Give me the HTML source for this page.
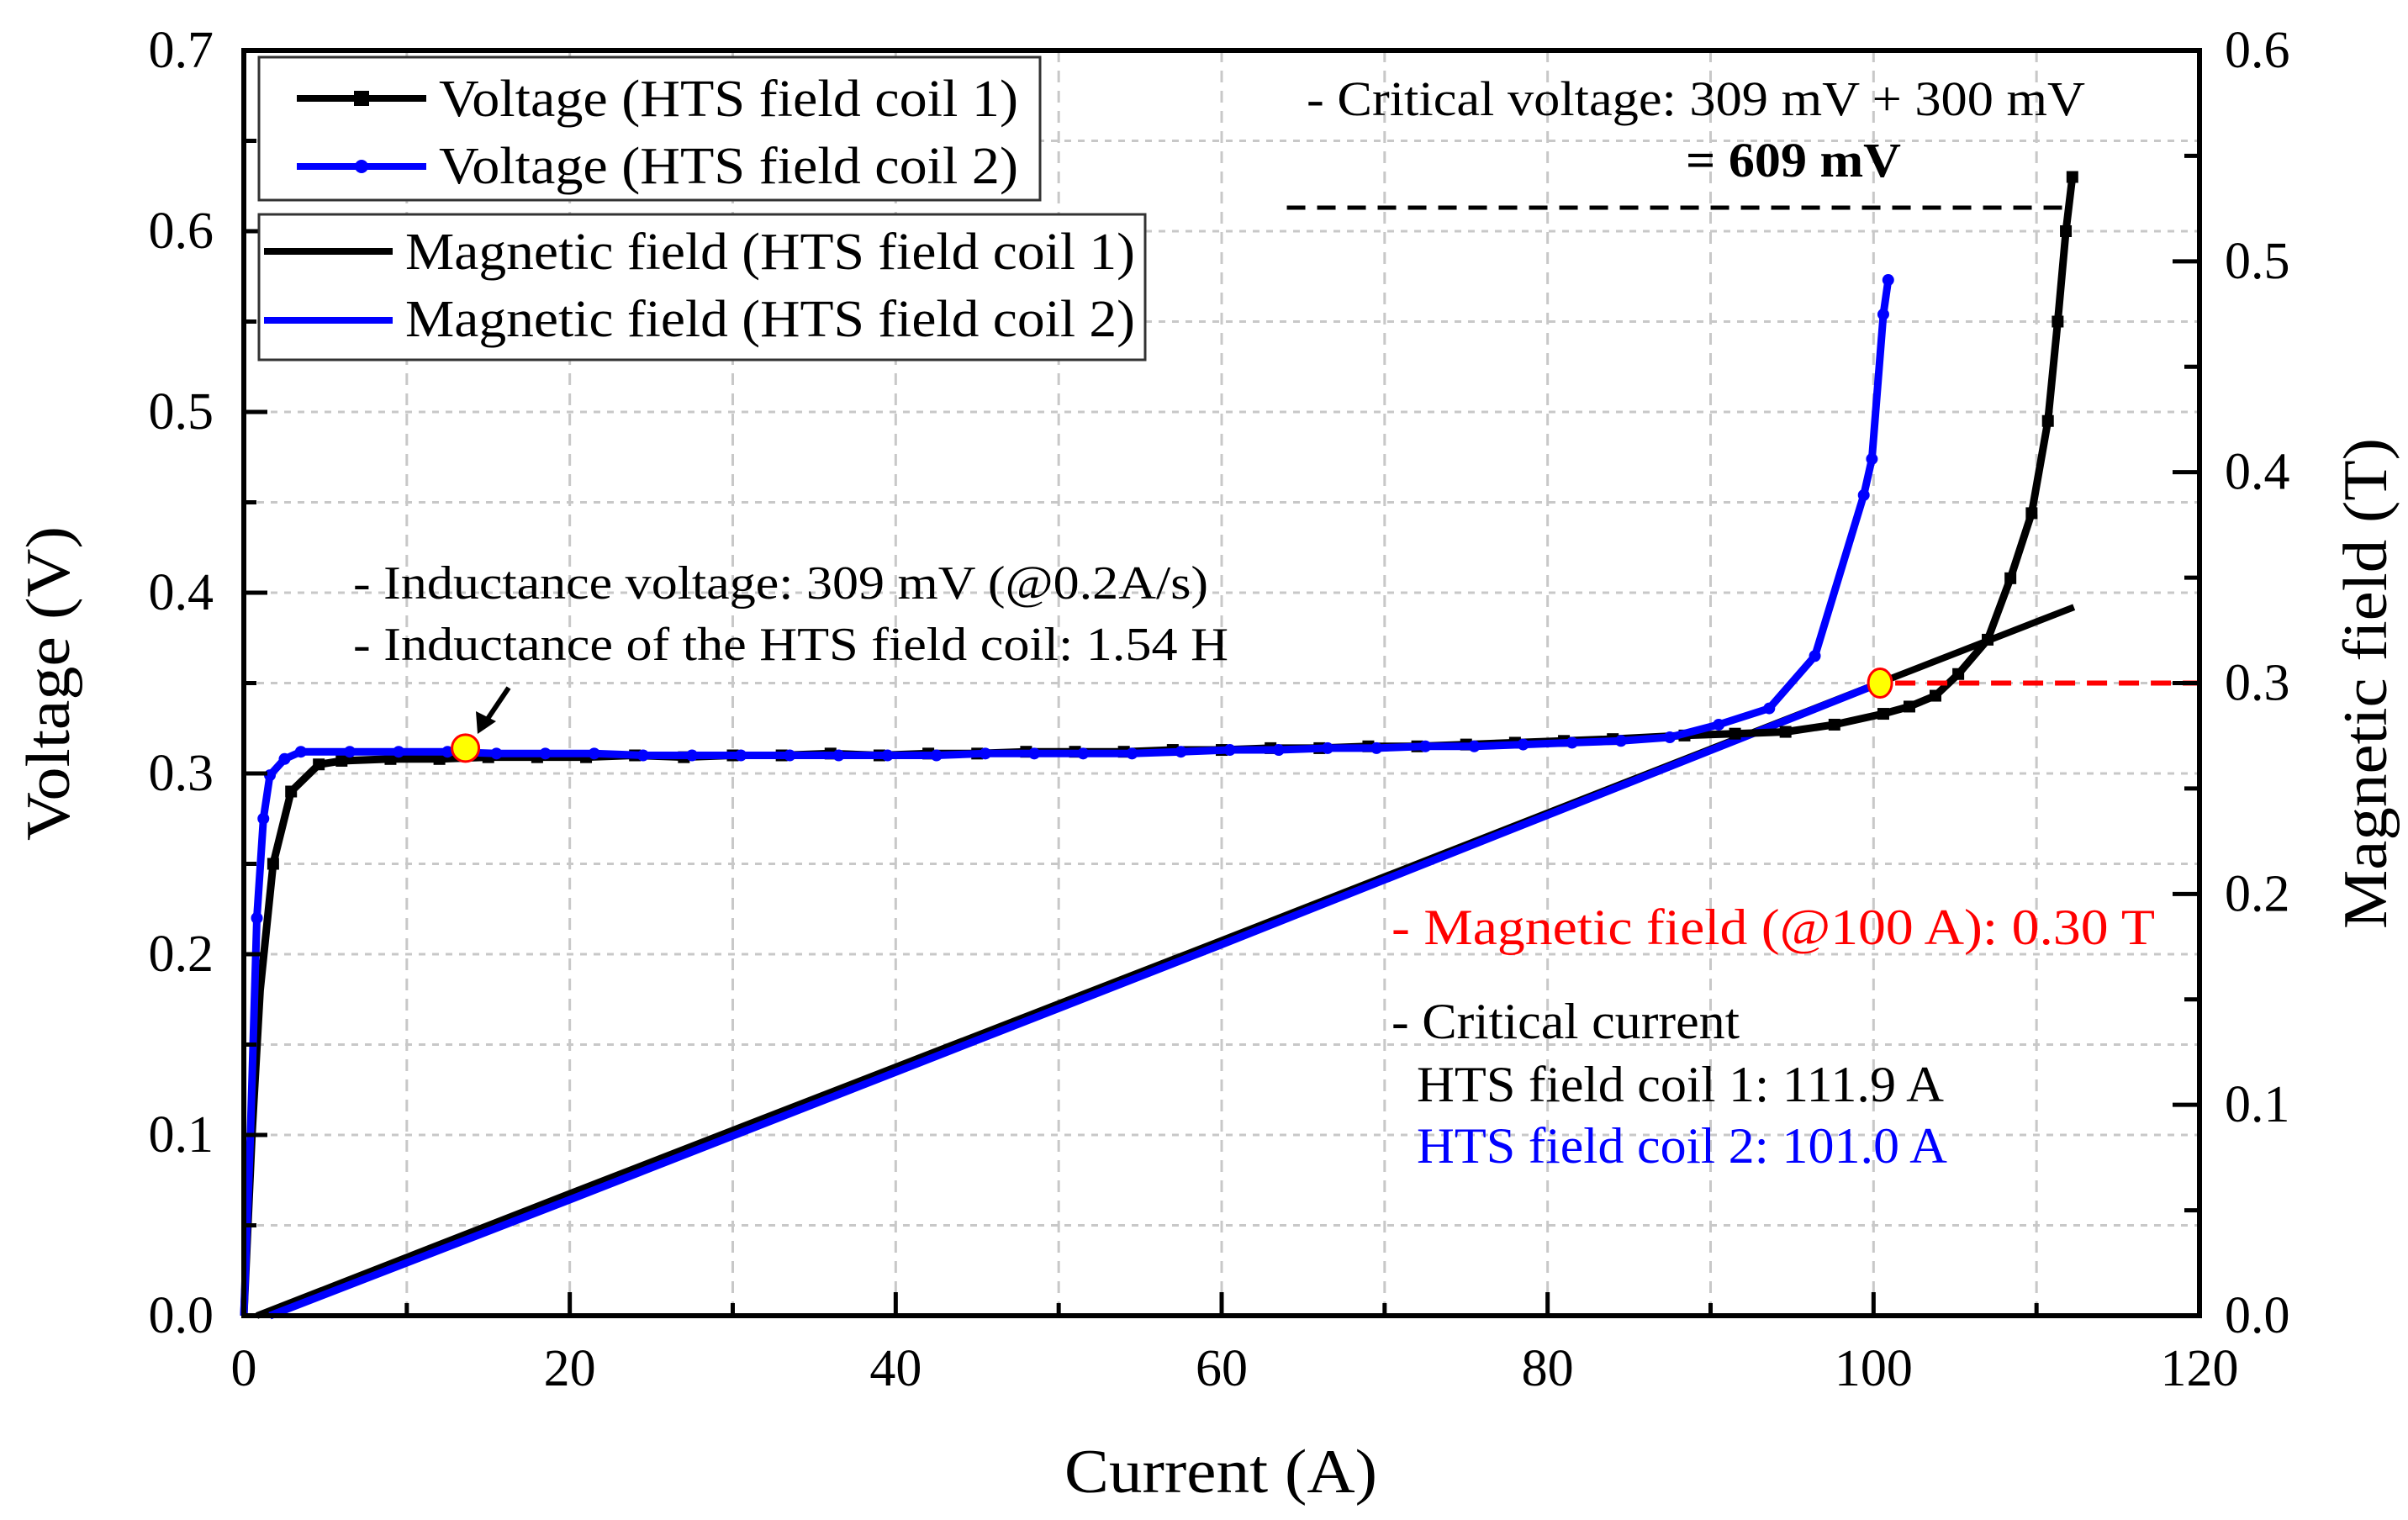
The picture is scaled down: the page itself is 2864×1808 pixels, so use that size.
<!DOCTYPE html>
<html><head><meta charset="utf-8"><style>
html,body{margin:0;padding:0;background:#fff;}
svg{display:block;font-family:"Liberation Serif",serif;}
</style></head><body>
<svg id="chart" width="2864" height="1808" viewBox="0 0 2864 1808" xmlns="http://www.w3.org/2000/svg">
<g id="grid"></g>
<g id="series"></g>
<g id="axes"></g>

<g>
<rect x="308" y="68" width="929" height="170" fill="#fff" stroke="#333" stroke-width="3"/>
<line x1="353" y1="117" x2="507" y2="117" stroke="#000" stroke-width="8"/>
<rect x="421" y="108" width="18" height="18" fill="#000"/>
<text x="522" y="138" font-size="62" textLength="689" lengthAdjust="spacingAndGlyphs">Voltage (HTS field coil 1)</text>
<line x1="353" y1="198" x2="507" y2="198" stroke="#0000ff" stroke-width="8"/>
<circle cx="430" cy="198" r="8" fill="#0000ff"/>
<text x="522" y="218" font-size="62" textLength="689" lengthAdjust="spacingAndGlyphs">Voltage (HTS field coil 2)</text>
</g>
<g>
<rect x="308" y="255" width="1054" height="173" fill="#fff" stroke="#333" stroke-width="3"/>
<line x1="314" y1="299" x2="467" y2="299" stroke="#000" stroke-width="8"/>
<text x="482" y="320" font-size="62" textLength="868" lengthAdjust="spacingAndGlyphs">Magnetic field (HTS field coil 1)</text>
<line x1="314" y1="381" x2="467" y2="381" stroke="#0000ff" stroke-width="8"/>
<text x="482" y="400" font-size="62" textLength="868" lengthAdjust="spacingAndGlyphs">Magnetic field (HTS field coil 2)</text>
</g>

<g>
<text x="1554" y="137" font-size="58" textLength="926" lengthAdjust="spacingAndGlyphs">- Critical voltage: 309 mV + 300 mV</text>
<text x="2005" y="210" font-size="58" font-weight="bold" textLength="256" lengthAdjust="spacingAndGlyphs">= 609 mV</text>
<text x="420" y="712" font-size="56" textLength="1017" lengthAdjust="spacingAndGlyphs">- Inductance voltage: 309 mV (@0.2A/s)</text>
<text x="420" y="785" font-size="56" textLength="1041" lengthAdjust="spacingAndGlyphs">- Inductance of the HTS field coil: 1.54 H</text>
<text x="1655" y="1123" font-size="60" fill="#ff0000" textLength="908" lengthAdjust="spacingAndGlyphs">- Magnetic field (@100 A): 0.30 T</text>
<text x="1655" y="1235" font-size="60" textLength="414" lengthAdjust="spacingAndGlyphs">- Critical current</text>
<text x="1685" y="1310" font-size="60" textLength="627" lengthAdjust="spacingAndGlyphs">HTS field coil 1: 111.9 A</text>
<text x="1685" y="1383" font-size="60" fill="#0000ff" textLength="631" lengthAdjust="spacingAndGlyphs">HTS field coil 2: 101.0 A</text>
<g>
<line x1="605" y1="818" x2="580" y2="855" stroke="#000" stroke-width="6"/>
<polygon points="568,873 566,846 590,858" fill="#000"/>
</g>
</g>

<g>
<text x="1452" y="1775" font-size="74" text-anchor="middle" textLength="372" lengthAdjust="spacingAndGlyphs">Current (A)</text>
<text transform="translate(82,813) rotate(-90)" font-size="74" text-anchor="middle" textLength="374" lengthAdjust="spacingAndGlyphs">Voltage (V)</text>
<text transform="translate(2838,813) rotate(-90)" font-size="74" text-anchor="middle" textLength="584" lengthAdjust="spacingAndGlyphs">Magnetic field (T)</text>
</g>
</svg>
<script>
// ---- data ----
const v1Current = [0,0.5,1,1.8,2.9,4.6,6,9,12,15,18,21,24,27,30,33,36,39,42,45,48,51,54,57,60,63,66,69,72,75,78,81,84,88.4,91.5,94.6,97.6,100.6,102.2,103.8,105.2,107,108.4,109.7,110.7,111.3,111.8,112.2];
const v1Voltage = [0,0.1,0.18,0.25,0.29,0.305,0.307,0.308,0.308,0.309,0.309,0.309,0.310,0.309,0.310,0.310,0.311,0.310,0.311,0.311,0.312,0.312,0.312,0.313,0.313,0.314,0.314,0.315,0.315,0.316,0.317,0.318,0.319,0.321,0.322,0.323,0.327,0.333,0.337,0.343,0.355,0.374,0.408,0.444,0.495,0.55,0.60,0.63];
const v2Current = [0,0.4,0.8,1.2,1.6,2.5,3.5,6.5,9.5,12.5,15.5,18.5,21.5,24.5,27.5,30.5,33.5,36.5,39.5,42.5,45.5,48.5,51.5,54.5,57.5,60.5,63.5,66.5,69.5,72.5,75.5,78.5,81.5,84.5,87.5,90.5,93.6,96.4,99.4,99.9,100.6,100.9];
const v2Voltage = [0,0.1,0.22,0.275,0.299,0.308,0.312,0.312,0.312,0.312,0.311,0.311,0.311,0.310,0.310,0.310,0.310,0.310,0.310,0.310,0.311,0.311,0.311,0.311,0.312,0.313,0.313,0.314,0.314,0.315,0.315,0.316,0.317,0.318,0.320,0.327,0.336,0.365,0.454,0.474,0.554,0.573];
const b1Current = [0.8,20,60,100,112.3];
const b1Field = [0,0.058,0.178,0.299,0.336];
const b2Current = [1.6,20,60,100.4];
const b2Field = [0,0.055,0.176,0.300];
const xTicks = [0,20,40,60,80,100,120];
const yTicks = ["0.0","0.1","0.2","0.3","0.4","0.5","0.6","0.7"];
const y2Ticks = ["0.0","0.1","0.2","0.3","0.4","0.5","0.6"];
const criticalVoltage = 0.613;
const criticalStartI = 64;
const criticalEndI = 112.2;
const inductPointI = 13.6, inductPointV = 0.314;
const fieldPointI = 100.4, fieldPointB = 0.30;

// ---- scales ----
const X0=290, X1=2616, Y0=1565, Y1=60;
const sx = i => X0 + (X1-X0)*i/120;
const sy = v => Y0 - (Y0-Y1)*v/0.7;
const sy2 = b => Y0 - (Y0-Y1)*b/0.6;
const NS="http://www.w3.org/2000/svg";
function mk(tag, parent){const e=document.createElementNS(NS,tag);parent.appendChild(e);return e;}
const grid=document.getElementById('grid'), series=document.getElementById('series'), axes=document.getElementById('axes');

for(let i=10;i<120;i+=10){
  const l=mk('line',grid);
  
  
  l.setAttribute('x1',sx(i));l.setAttribute('x2',sx(i));l.setAttribute('y1',Y1);l.setAttribute('y2',Y0);
  l.setAttribute('stroke','#c8c8c8');l.setAttribute('stroke-width','3');l.setAttribute('stroke-dasharray','14 10');
}
for(let k=1;k<14;k++){
  const v=k*0.05;
  const l=mk('line',grid);
  
  
  l.setAttribute('x1',X0);l.setAttribute('x2',X1);l.setAttribute('y1',sy(v));l.setAttribute('y2',sy(v));
  l.setAttribute('stroke','#c8c8c8');l.setAttribute('stroke-width','3');l.setAttribute('stroke-dasharray','8 8');
}

function pathFrom(xs,ys,f){return xs.map((x,i)=>(i?'L':'M')+sx(x).toFixed(1)+','+f(ys[i]).toFixed(1)).join(' ');}
function drawLine(xs,ys,f,color,name,w){
  const p=mk('path',series);
  
  
  p.setAttribute('d',pathFrom(xs,ys,f));p.setAttribute('fill','none');p.setAttribute('stroke',color);
  p.setAttribute('stroke-width',w);p.setAttribute('stroke-linejoin','round');
}
drawLine(b1Current,b1Field,sy2,'#000','field-coil1-line',8);
drawLine(b2Current,b2Field,sy2,'#0000ff','field-coil2-line',9);
drawLine(v1Current,v1Voltage,sy,'#000','voltage-coil1-line',9);
v1Current.forEach((c,i)=>{
  if(i<3) return;
  const r=mk('rect',series);
  
  
  r.setAttribute('x',sx(c)-7);r.setAttribute('y',sy(v1Voltage[i])-7);r.setAttribute('width',14);r.setAttribute('height',14);r.setAttribute('fill','#000');
});
drawLine(v2Current,v2Voltage,sy,'#0000ff','voltage-coil2-line',9);
v2Current.forEach((c,i)=>{
  if(i<2) return;
  const r=mk('circle',series);
  
  
  r.setAttribute('cx',sx(c));r.setAttribute('cy',sy(v2Voltage[i]));r.setAttribute('r',7);r.setAttribute('fill','#0000ff');
});
{const l=mk('line',series);


l.setAttribute('x1',sx(criticalStartI));l.setAttribute('x2',sx(criticalEndI));l.setAttribute('y1',sy(criticalVoltage));l.setAttribute('y2',sy(criticalVoltage));
l.setAttribute('stroke','#000');l.setAttribute('stroke-width','5');l.setAttribute('stroke-dasharray','22 14');}
{const l=mk('line',series);


l.setAttribute('x1',sx(fieldPointI)+18);l.setAttribute('x2',X1);l.setAttribute('y1',sy2(fieldPointB));l.setAttribute('y2',sy2(fieldPointB));
l.setAttribute('stroke','#ff0000');l.setAttribute('stroke-width','6');l.setAttribute('stroke-dasharray','24 14');}
{const c=mk('circle',series);


c.setAttribute('cx',sx(inductPointI));c.setAttribute('cy',sy(inductPointV));c.setAttribute('r',16);c.setAttribute('fill','#ffff00');c.setAttribute('stroke','#ff0000');c.setAttribute('stroke-width','3');}
{const c=mk('ellipse',series);


c.setAttribute('cx',sx(fieldPointI));c.setAttribute('cy',sy2(fieldPointB));c.setAttribute('rx',14);c.setAttribute('ry',17);c.setAttribute('fill','#ffff00');c.setAttribute('stroke','#ff0000');c.setAttribute('stroke-width','3');}

{const r=mk('rect',axes);


r.setAttribute('x',X0);r.setAttribute('y',Y1);r.setAttribute('width',X1-X0);r.setAttribute('height',Y0-Y1);r.setAttribute('fill','none');r.setAttribute('stroke','#000');r.setAttribute('stroke-width','6');}
function tick(x1,y1,x2,y2,name){const l=mk('line',axes);
  
  
  l.setAttribute('x1',x1);l.setAttribute('y1',y1);l.setAttribute('x2',x2);l.setAttribute('y2',y2);l.setAttribute('stroke','#000');l.setAttribute('stroke-width','5');}
function label(x,y,txt,anchor,name){const t=mk('text',axes);
  
  
  t.setAttribute('x',x);t.setAttribute('y',y);t.setAttribute('font-size','62');t.setAttribute('text-anchor',anchor);t.textContent=txt;}
xTicks.forEach((v,i)=>{
  tick(sx(v),Y0,sx(v),Y0-28,'x-tick');
  if(i<xTicks.length-1) tick(sx(v+10),Y0,sx(v+10),Y0-15,'x-minor-tick');
  label(sx(v),1648,String(v),'middle','x-tick-label');
});
yTicks.forEach((t,i)=>{
  const v=i*0.1;
  tick(X0,sy(v),X0+28,sy(v),'y-tick');
  if(i<yTicks.length-1) tick(X0,sy(v+0.05),X0+15,sy(v+0.05),'y-minor-tick');
  label(254,sy(v)+20,t,'end','y-tick-label');
});
y2Ticks.forEach((t,i)=>{
  const b=i*0.1;
  tick(X1,sy2(b),X1-32,sy2(b),'y2-tick');
  if(i<y2Ticks.length-1) tick(X1,sy2(b+0.05),X1-18,sy2(b+0.05),'y2-minor-tick');
  label(2646,sy2(b)+20,t,'start','y2-tick-label');
});
</script>
</body></html>
